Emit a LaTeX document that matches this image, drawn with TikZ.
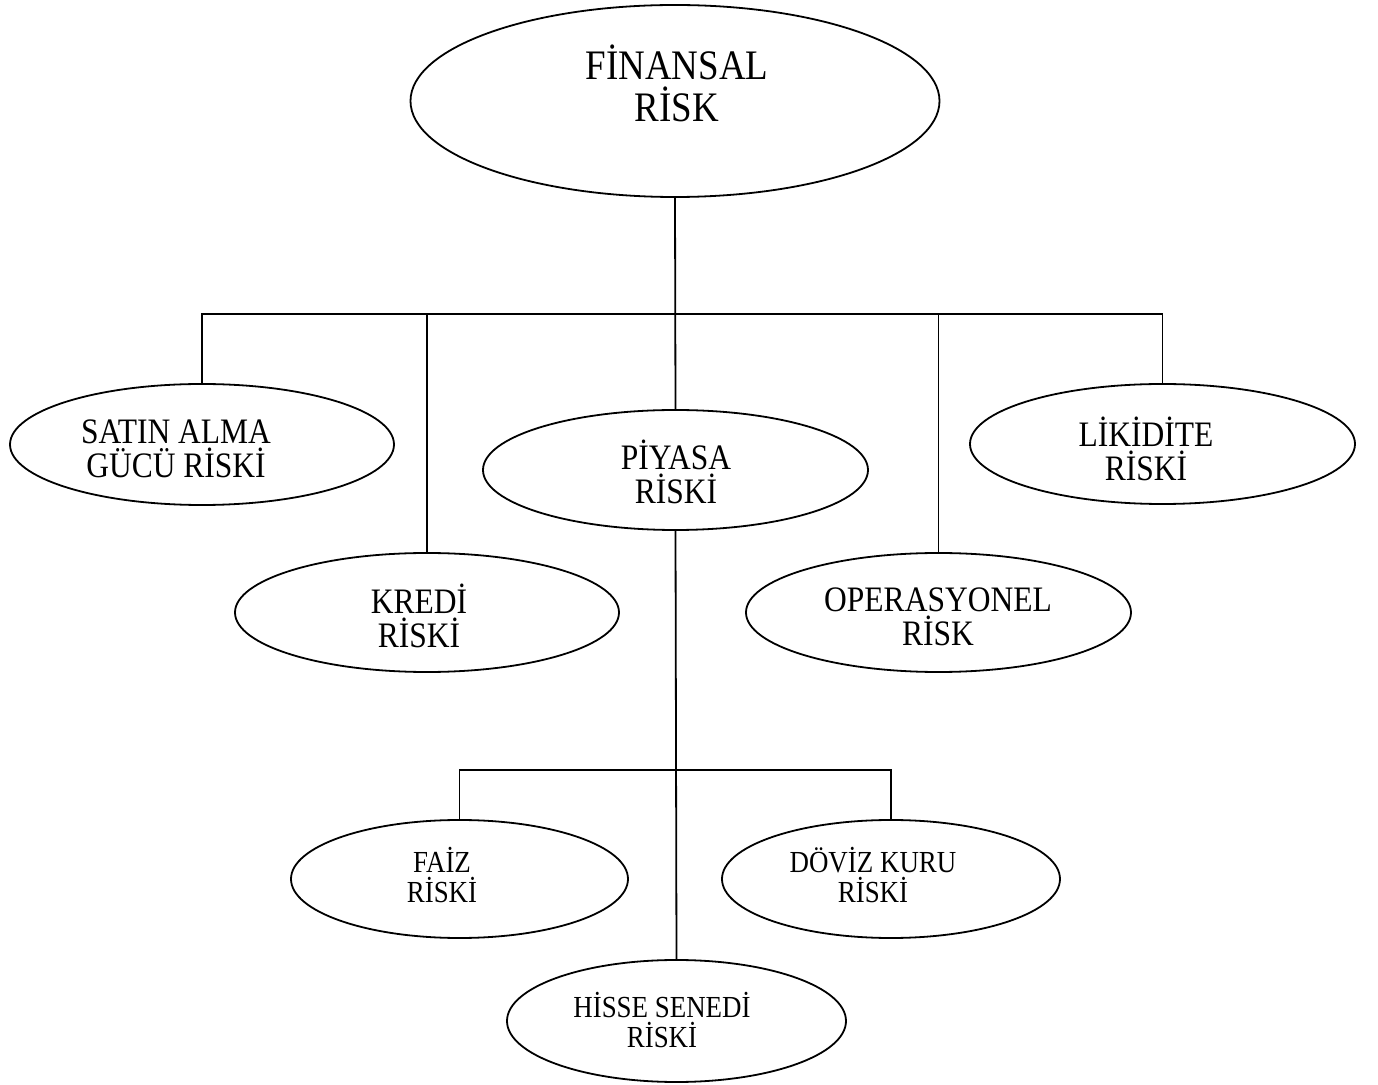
\documentclass[tikz,border=0pt]{standalone}
\usepackage{fontspec}
\setmainfont[FakeStretch=0.88]{Liberation Serif}
\usepackage{tikz}
\usetikzlibrary{shapes.geometric}

\begin{document}
\begin{tikzpicture}[x=0.5pt,y=-0.5pt,line width=0.9pt,
		oval/.style={draw,ellipse,inner sep=0pt,outer sep=0pt},
		bigtext/.style={align=center,font=\fontsize{21}{21}\selectfont},
		midtext/.style={align=center,font=\fontsize{17.9}{17}\selectfont},
		smalltext/.style={align=center,font=\fontsize{15.3}{15}\selectfont}]
			\useasboundingbox (0,0) rectangle (1378,1085);
			\node[oval,minimum width=264.5pt,minimum height=96pt] (fin) at (675,101) {};
			\node[oval,minimum width=192pt,minimum height=60.5pt] (satin) at (202,444.5) {};
			\node[oval,minimum width=192pt,minimum height=59.5pt] (kredi) at (427,612.5) {};
			\node[oval,minimum width=192.5pt,minimum height=60pt] (piyasa) at (675.5,470) {};
			\node[oval,minimum width=192.5pt,minimum height=60pt] (likidite) at (1162.5,444) {};
			\node[oval,minimum width=192.5pt,minimum height=59.5pt] (oper) at (938.5,612.5) {};
			\node[oval,minimum width=168.5pt,minimum height=59pt] (faiz) at (459.5,879) {};
			\node[oval,minimum width=169pt,minimum height=59pt] (doviz) at (891,879) {};
			\node[oval,minimum width=169.5pt,minimum height=61pt] (hisse) at (676.5,1021) {};
			\node[bigtext] (fintxt) at (677,83) {FİNANSAL\\RİSK};
			\node[midtext] (satintxt) at (176,449) {SATIN ALMA\\GÜCÜ RİSKİ};
			\node[midtext] (kreditxt) at (419,616) {KREDİ\\RİSKİ};
			\node[midtext] (piyasatxt) at (676,472) {PİYASA\\RİSKİ};
			\node[midtext] (likiditetxt) at (1146,449) {LİKİDİTE\\RİSKİ};
			\node[midtext] (opertxt) at (938,617) {OPERASYONEL\\RİSK};
			\node[smalltext] (faiztxt) at (442,875) {FAİZ\\RİSKİ};
			\node[smalltext] (doviztxt) at (873,875) {DÖVİZ KURU\\RİSKİ};
			\node[smalltext] (hissetxt) at (662,1020) {HİSSE SENEDİ\\RİSKİ};
			\coordinate (bar) at (675,314);
			\coordinate (subbar) at (675,770);
			\draw (fin.south)--(piyasa.north);
			\draw (satin.north)|-(likidite.north |- bar)--(likidite.north);
			\draw (kredi.north)--(kredi.north |- bar);
			\draw (oper.north)--(oper.north |- bar);
			\draw (piyasa.south)--(hisse.north);
			\draw (faiz.north)|-(doviz.north |- subbar)--(doviz.north);
		\end{tikzpicture}
\end{document}
